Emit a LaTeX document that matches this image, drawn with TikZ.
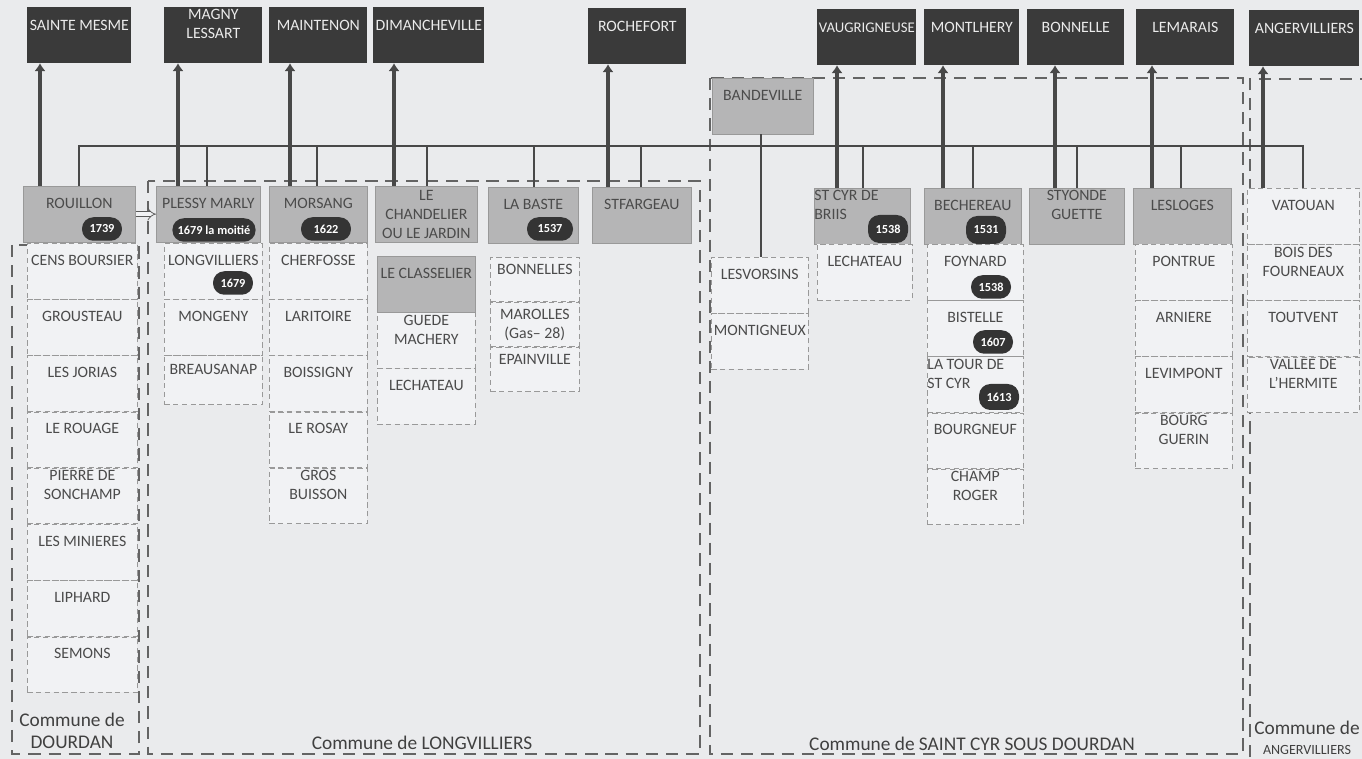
\documentclass[tikz,border=0pt]{standalone}
\usepackage{fontspec}
\setmainfont{Carlito}
\usepackage{tikz}
\usetikzlibrary{positioning,arrows.meta}

\definecolor{paper}{RGB}{234,235,237}
\definecolor{towngray}{RGB}{58,58,58}
\definecolor{seiggray}{RGB}{181,181,182}
\definecolor{cellwhite}{RGB}{241,242,244}
\definecolor{inkgray}{RGB}{75,75,75}
\definecolor{linegray}{RGB}{72,72,72}
\definecolor{framegray}{RGB}{100,100,100}
\definecolor{yeargray}{RGB}{52,52,52}

\tikzset{
 town/.style
  = {rectangle, fill=towngray, text=white!92!black, inner sep=0pt,
     anchor=north west, align=flush center, font=\fontsize{9}{10.8}\selectfont,
     text height=13.1pt, text depth=18.5pt},
 seig/.style
  = {rectangle, draw=gray!80, fill=seiggray, text=inkgray, inner sep=0pt,
     anchor=north west, align=flush center, font=\fontsize{9}{10.8}\selectfont,
     text height=12.5pt, text depth=19.1pt},
 cell/.style
  = {rectangle, draw=gray!80, densely dashed, fill=cellwhite, text=inkgray,
     inner sep=0pt, anchor=north west, align=flush center,
     font=\fontsize{9}{10.8}\selectfont, text height=12.5pt, text depth=19.1pt},
 two/.style
  = {text height=7.2pt, text depth=24.4pt},
 three/.style
  = {text height=8pt, text depth=23.6pt},
 short/.style
  = {text height=9.7pt, text depth=15.5pt},
 year/.style
  = {rectangle, rounded corners=6.5pt, fill=yeargray, text=white, inner xsep=3pt,
     inner ysep=0pt, minimum width=0.8cm, minimum height=0.47cm,
     font=\bfseries\fontsize{7}{8}\selectfont},
 up/.style
  = {draw=linegray, line width=2.2pt, -{Latex[length=4.5pt,width=6.5pt]}},
 bus/.style
  = {draw=linegray, line width=0.8pt},
 commune/.style
  = {draw=framegray, line width=1.1pt, dash pattern=on 7pt off 4.5pt},
 communetext/.style
  = {text=black!75, align=center, font=\fontsize{11}{12.5}\selectfont},
}

\begin{document}
\begin{tikzpicture}[x=0.02cm, y=-0.02cm]
\useasboundingbox (0,0) rectangle (1362,759);
\fill[paper] (0,0) rectangle (1362,759);

% Communes outlines
\draw[commune] (12,245) rectangle (139,754);
\draw[commune] (148,181) rectangle (700,754);
\draw[commune] (710,78) rectangle (1243,754);
\draw[commune] (1250,757) -- (1250,79) -- (1375,79);

% Towns on top
\node[town, text width=2.08cm] (mesme) at (27,7) {SAINTE MESME};
\node[town, two, text width=1.96cm] (magny) at (164,7) {MAGNY\\LESSART};
\node[town, text width=1.96cm] (maintenon) at (269,7) {MAINTENON};
\node[town, text width=2.22cm] (dimancheville) at (373,7) {DIMANCHEVILLE};
\node[town, text width=1.96cm] (rochefort) at (588,8) {ROCHEFORT};
\node[town, text width=1.98cm, font=\fontsize{8.4}{10}\selectfont] (vaugrigneuse) at (817,9) {VAUGRIGNEUSE};
\node[town, text width=1.9cm] (montlhery) at (924,9) {MONTLHERY};
\node[town, text width=1.94cm] (bonnelle) at (1027,9) {BONNELLE};
\node[town, text width=1.96cm] (lemarais) at (1136,9) {LEMARAIS};
\node[town, text width=2.2cm] (angervilliers) at (1249,10) {ANGERVILLIERS};

% Commune de Dourdan
\node[seig, text width=2.24cm] (rouillon) at (23,186) {ROUILLON};
\node[cell, text width=2.2cm] (cens) at (27,243) {CENS BOURSIER};
\node[cell, text width=2.2cm, below=0pt of cens] (grousteau) {GROUSTEAU};
\node[cell, text width=2.2cm, below=0pt of grousteau] (jorias) {LES JORIAS};
\node[cell, text width=2.2cm, below=0pt of jorias] (rouage) {LE ROUAGE};
\node[cell, two, text width=2.2cm, below=0pt of rouage] (sonchamp) {PIERRE DE\\SONCHAMP};
\node[cell, text width=2.2cm, below=0pt of sonchamp] (minieres) {LES MINIERES};
\node[cell, text width=2.2cm, below=0pt of minieres] (liphard) {LIPHARD};
\node[cell, text width=2.2cm, below=0pt of liphard] (semons) {SEMONS};

% Commune de Longvilliers
\node[seig, text width=2.08cm] (plessy) at (156,186) {PLESSY MARLY};
\node[cell, text width=1.96cm] (longvilliers) at (164,243) {LONGVILLIERS};
\node[cell, text width=1.96cm, below=0pt of longvilliers] (mongeny) {MONGENY};
\node[cell, text width=1.96cm, text height=10.8pt, text depth=17.1pt,
      below=0pt of mongeny] (breausanap) {BREAUSANAP};

\node[seig, text width=1.96cm] (morsang) at (269,186) {MORSANG};
\node[cell, text width=1.96cm] (cherfosse) at (269,243) {CHERFOSSE};
\node[cell, text width=1.96cm, below=0pt of cherfosse] (laritoire) {LARITOIRE};
\node[cell, text width=1.96cm, below=0pt of laritoire] (boissigny) {BOISSIGNY};
\node[cell, text width=1.96cm, below=0pt of boissigny] (rosay) {LE ROSAY};
\node[cell, two, text width=1.96cm, below=0pt of rosay] (buisson) {GROS\\BUISSON};

\node[seig, three, text width=2.04cm] (chandelier) at (375,186) {LE\\CHANDELIER\\OU LE JARDIN};
\node[seig, text width=1.96cm] (classelier) at (377,256) {LE CLASSELIER};
\node[cell, two, text width=1.96cm, below=0pt of classelier] (guede) {GUEDE\\MACHERY};
\node[cell, text width=1.96cm, below=0pt of guede] (lechateau) {LECHATEAU};

\node[seig, text width=1.8cm] (labaste) at (488,187) {LA BASTE};
\node[cell, short, text width=1.78cm] (bonnelles) at (490,257) {BONNELLES};
\node[cell, short, text width=1.78cm, below=0pt of bonnelles] (marolles) {MAROLLES\\(Gas– 28)};
\node[cell, short, text width=1.78cm, below=0pt of marolles] (epainville) {EPAINVILLE};

\node[seig, text width=1.98cm] (stfargeau) at (592,187) {STFARGEAU};

% Commune de Saint Cyr sous Dourdan
\node[seig, text width=2.02cm] (bandeville) at (712,78) {BANDEVILLE};
\node[cell, text width=1.94cm] (lesvorsins) at (711,257) {LESVORSINS};
\node[cell, text width=1.94cm, below=0pt of lesvorsins] (montigneux) {MONTIGNEUX};

\node[seig, two, align=flush left, text width=1.92cm] (stcyr) at (814,188) {ST CYR DE\\BRIIS};
\node[cell, text width=1.9cm] (lechateaub) at (817,244) {LECHATEAU};

\node[seig, text width=1.94cm] (bechereau) at (924,188) {BECHEREAU};
\node[cell, text width=1.92cm] (foynard) at (927,244) {FOYNARD};
\node[cell, text width=1.92cm, below=0pt of foynard] (bistelle) {BISTELLE};
\node[cell, two, align=flush left, text width=1.92cm, below=0pt of bistelle] (tour) {LA TOUR DE\\ST CYR};
\node[cell, text width=1.92cm, below=0pt of tour] (bourgneuf) {BOURGNEUF};
\node[cell, two, text width=1.92cm, below=0pt of bourgneuf] (champ) {CHAMP\\ROGER};

\node[seig, two, text width=1.9cm] (styonde) at (1029,188) {STYONDE\\GUETTE};

\node[seig, text width=1.96cm] (lesloges) at (1133,188) {LESLOGES};
\node[cell, text width=1.94cm] (pontrue) at (1135,244) {PONTRUE};
\node[cell, text width=1.94cm, below=0pt of pontrue] (arniere) {ARNIERE};
\node[cell, text width=1.94cm, below=0pt of arniere] (levimpont) {LEVIMPONT};
\node[cell, two, text width=1.94cm, below=0pt of levimpont] (bourg) {BOURG\\GUERIN};

% Commune d'Angervilliers
\node[cell, text width=2.24cm] (vatouan) at (1247,188) {VATOUAN};
\node[cell, two, text width=2.24cm, below=0pt of vatouan] (fourneaux) {BOIS DES\\FOURNEAUX};
\node[cell, text width=2.24cm, below=0pt of fourneaux] (toutvent) {TOUTVENT};
\node[cell, two, text width=2.24cm, below=0pt of toutvent] (hermite) {VALLEE DE\\L’HERMITE};

% Years
\node[year] (y1739) at (102,229) {1739};
\node[year] (y1679m) at (214,230) {1679 la moitié};
\node[year, minimum width=1cm] (y1622) at (326,229) {1622};
\node[year] (y1679) at (233,283) {1679};
\node[year, minimum width=0.92cm] (y1537) at (550,229) {1537};
\node[year, minimum height=0.56cm] (y1538a) at (888,229) {1538};
\node[year, minimum height=0.56cm] (y1531) at (986,230) {1531};
\node[year] (y1538b) at (991,287) {1538};
\node[year] (y1607) at (993,342) {1607};
\node[year, minimum height=0.52cm] (y1613) at (999,397) {1613};

% Communes labels
\node[communetext] (ldourdan) at (72,731) {Commune de\\DOURDAN};
\node[communetext] (llongvilliers) at (422,743) {Commune de LONGVILLIERS};
\node[communetext] (lstcyr) at (972,744) {Commune de SAINT CYR SOUS DOURDAN};
\node[communetext] (langervilliers) at (1307,738)
  {Commune de\\[-1pt]{\fontsize{8}{9}\selectfont ANGERVILLIERS}};

% Common line
\coordinate (busw) at (79,146);
\coordinate (buse) at (1303,146);
\draw[bus] (rouillon.north -| busw) -- (busw) -- (buse) -- (vatouan.north -| buse);
\draw[bus] (plessy.north -| 207,0) |- (busw);
\draw[bus] (morsang.north -| 317,0) |- (busw);
\draw[bus] (chandelier.north -| 427,0) |- (busw);
\draw[bus] (labaste.north -| 534,0) |- (busw);
\draw[bus] (stfargeau.north -| 641,0) |- (busw);
\draw[bus] (stcyr.north -| 863,0) |- (buse);
\draw[bus] (bechereau.north -| 973,0) |- (buse);
\draw[bus] (styonde.north -| 1077,0) |- (buse);
\draw[bus] (lesloges.north -| 1181,0) |- (buse);
\draw[bus] (bandeville.south -| 761,0) -- (lesvorsins.north -| 761,0);

% Arrows to towns
\draw[up] (rouillon.north -| 40,0) -- (mesme.south -| 40,0);
\draw[up] (plessy.north -| 178,0) -- (magny.south -| 178,0);
\draw[up] (morsang.north -| 290,0) -- (maintenon.south -| 290,0);
\draw[up] (chandelier.north -| 394,0) -- (dimancheville.south -| 394,0);
\draw[up] (stfargeau.north -| 608,0) -- (rochefort.south -| 608,0);
\draw[up] (stcyr.north -| 837,0) -- (vaugrigneuse.south -| 837,0);
\draw[up] (bechereau.north -| 943,0) -- (montlhery.south -| 943,0);
\draw[up] (styonde.north -| 1055,0) -- (bonnelle.south -| 1055,0);
\draw[up] (lesloges.north -| 1152,0) -- (lemarais.south -| 1152,0);
\draw[up] (vatouan.north -| 1263,0) -- (angervilliers.south -| 1263,0);

% Rouillon to Plessy Marly
\draw[draw=gray!70!black, double=cellwhite, double distance=2.2pt, -{Implies}]
  (rouillon.east) -- (plessy.west);

\end{tikzpicture}
\end{document}
